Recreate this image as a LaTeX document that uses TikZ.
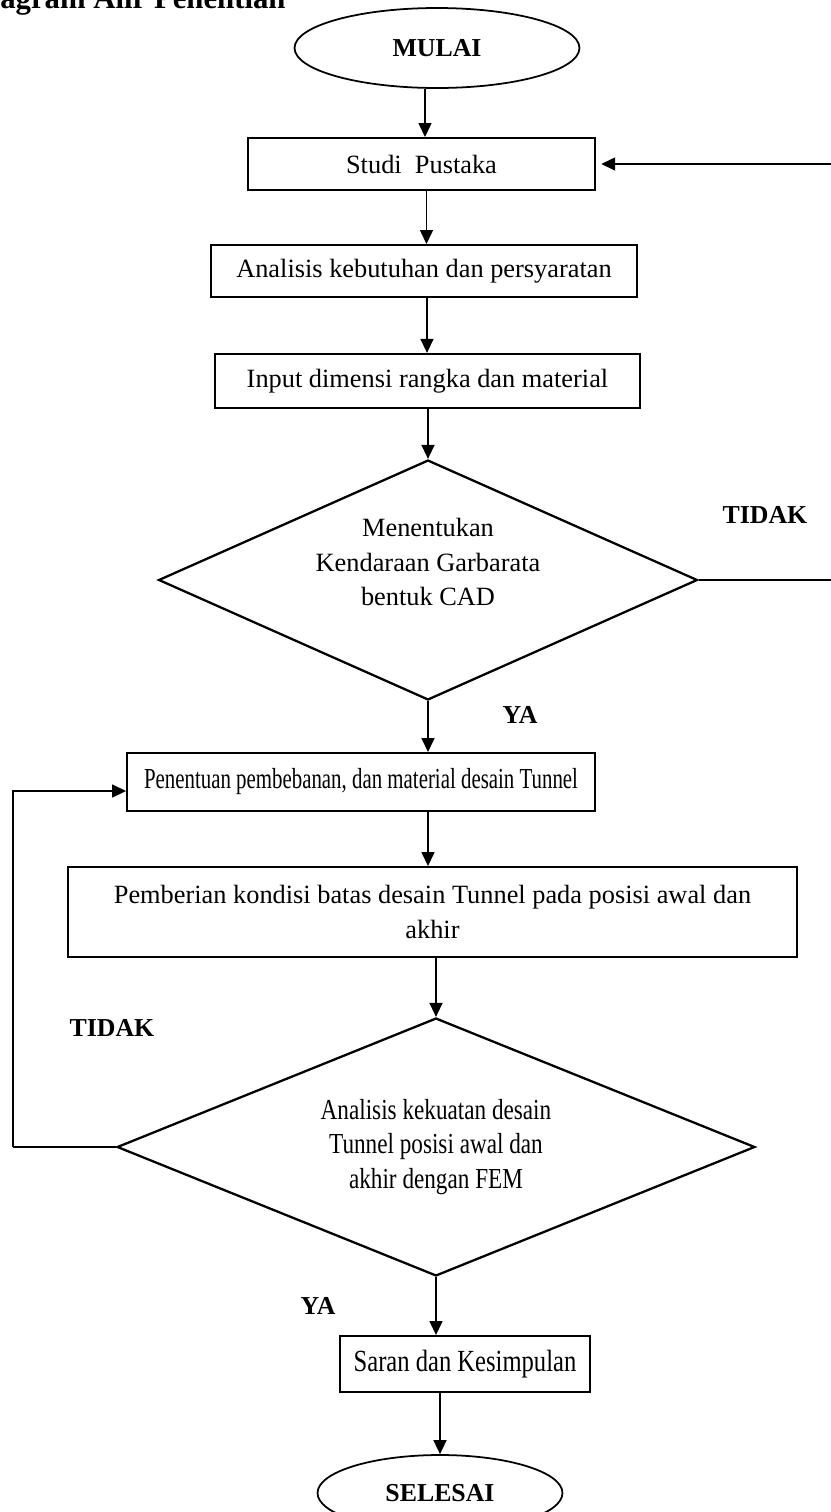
\documentclass[tikz,border=0pt]{standalone}
\usepackage{fontspec}
\setmainfont{Liberation Serif}
\newfontfamily\narrowfont[FakeStretch=0.72]{Liberation Serif}
\newfontfamily\semifont[FakeStretch=0.8]{Liberation Serif}
\usetikzlibrary{shapes.geometric, arrows.meta, positioning}
\tikzset{
  procbox/.style={rectangle, draw=black, line width=1.1pt, align=center,
    inner sep=0pt, font=\fontsize{15}{19.8}\selectfont},
  decision/.style={diamond, draw=black, line width=1.3pt, align=center,
    inner sep=0pt, font=\fontsize{15}{19.8}\selectfont},
  terminal/.style={ellipse, draw=black, line width=1pt, inner sep=0pt,
    font=\bfseries\fontsize{14.7}{18}\selectfont},
  answer/.style={inner sep=0pt, font=\bfseries\fontsize{14.7}{18}\selectfont},
  arrow/.style={-{Triangle[length=0.28cm, width=0.26cm]}, line width=0.8pt, color=black},
  line/.style={line width=0.8pt, color=black}
}

\begin{document}
\begin{tikzpicture}[x=0.02cm, y=-0.02cm]
    \useasboundingbox (0,0) rectangle (831,1512);

    % Title (cut at the top)
    \node[anchor=base west, inner sep=0pt, font=\bfseries\fontsize{17.5}{20}\selectfont] (title) at (0,8) {agram Alir Penelitian};

    % Start
    \node[terminal, minimum width=5.7cm, minimum height=1.6cm] (mulai) at (437,48) {MULAI};

    % Process steps
    \node[procbox, minimum width=6.94cm, minimum height=1.04cm] (studi) at (421.5,164) {Studi\ \ Pustaka};
    \node[procbox, minimum width=8.52cm, minimum height=1.04cm] (analisis) at (424,271) {Analisis kebutuhan dan persyaratan};
    \node[procbox, minimum width=8.5cm, minimum height=1.08cm, line width=1.3pt] (input) at (427.5,381) {Input dimensi rangka dan material};

    % First decision
    \node[decision, aspect=2.25, minimum width=10.78cm, minimum height=4.8cm] (cad) at (428,580) {};
    \node[align=center, inner sep=0pt, font=\fontsize{15}{19.8}\selectfont] (cadtext) at (428,562) {Menentukan\\Kendaraan Garbarata\\bentuk CAD};

    \node[procbox, minimum width=9.36cm, minimum height=1.16cm, font=\narrowfont\fontsize{16.5}{19.8}\selectfont] (beban) at (361,782) {Penentuan pembebanan, dan material desain Tunnel};
    \node[procbox, minimum width=14.58cm, minimum height=1.8cm] (batas) at (432.5,912) {Pemberian kondisi batas desain Tunnel pada posisi awal dan\\akhir};

    % Second decision
    \node[decision, aspect=2.47, minimum width=12.76cm, minimum height=5.16cm, font=\semifont\fontsize{16.5}{19.8}\selectfont] (fem) at (436,1147) {Analisis kekuatan desain\\Tunnel posisi awal dan\\akhir dengan FEM};

    \node[procbox, minimum width=5cm, minimum height=1.12cm, font=\semifont\fontsize{17.5}{20}\selectfont] (saran) at (465,1364) {Saran dan Kesimpulan};

    % End (cut at the bottom)
    \node[terminal, minimum width=4.9cm, minimum height=1.52cm] (selesai) at (440,1493) {SELESAI};

    % Answers
    \node[answer] (tidak1) at (765,515) {TIDAK};
    \node[answer] (ya1) at (520,715) {YA};
    \node[answer] (tidak2) at (112,1028) {TIDAK};
    \node[answer] (ya2) at (318,1306) {YA};

    % Loop corners
    \coordinate (rloop) at (850,580);
    \coordinate (lloop) at (13,1147);

    % Main flow
    \draw[arrow] ([xshift=-0.24cm]mulai.south) -- ([xshift=-0.24cm]mulai.south |- studi.north);
    \draw[arrow] ([xshift=0.1cm]studi.south) -- ([xshift=0.1cm]studi.south |- analisis.north);
    \draw[arrow] ([xshift=0.06cm]analisis.south) -- ([xshift=0.06cm]analisis.south |- input.north);
    \draw[arrow] (cad.north |- input.south) -- (cad.north);
    \draw[arrow] (cad.south) -- (cad.south |- beban.north);
    \draw[arrow] (cad.south |- beban.south) -- (cad.south |- batas.north);
    \draw[arrow] (fem.north |- batas.south) -- (fem.north);
    \draw[arrow] (fem.south) -- (fem.south |- saran.north);
    \draw[arrow] (selesai.north |- saran.south) -- (selesai.north);

    % Back loops
    \draw[line] (cad.east) -- (rloop);
    \draw[arrow, shorten >=3pt] (rloop) |- (studi.east);
    \draw[line] (fem.west) -- (lloop);
    \draw[arrow] (lloop) |- ([yshift=-0.18cm]beban.west);
\end{tikzpicture}
\end{document}
